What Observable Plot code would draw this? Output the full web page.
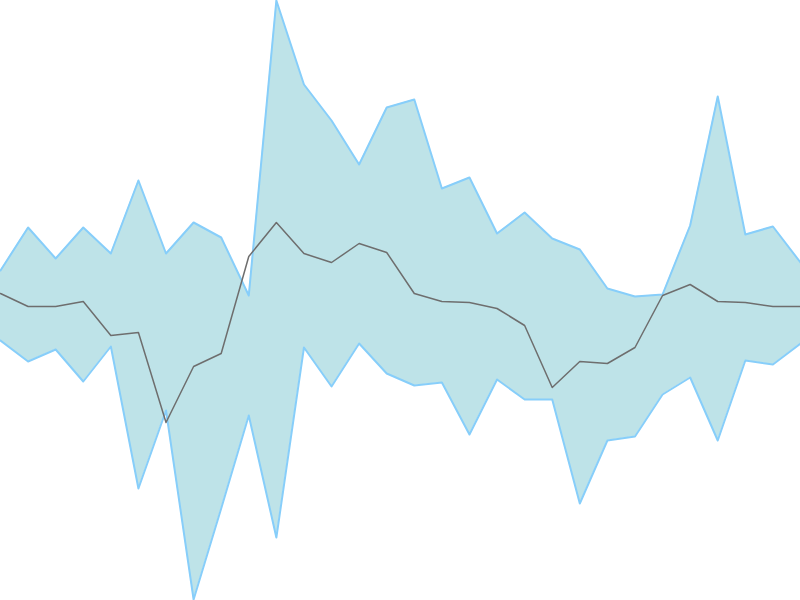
<!DOCTYPE html>
<html><head><meta charset="utf-8">
<script src="https://cdn.jsdelivr.net/npm/d3@7"></script>
<script src="https://cdn.jsdelivr.net/npm/@observablehq/plot@0.6"></script>
<style>html,body{margin:0;padding:0;background:#fff;}</style>
</head><body><div id="chart"></div>
<script>
const upper = [33.0,37.3,34.2,37.3,34.7,42.0,34.7,37.8,36.3,30.5,60.0,51.6,48.0,43.6,49.3,50.1,41.2,42.3,36.7,38.8,36.2,35.1,31.2,30.4,30.6,37.5,50.4,36.6,37.4,33.8];
const lower = [26.0,23.9,25.1,21.9,25.4,11.2,19.0,0.1,9.2,18.5,6.3,25.3,21.4,25.7,22.7,21.5,21.8,16.6,22.1,20.1,20.1,9.7,16.0,16.4,20.6,22.3,16.0,24.0,23.6,25.7];
const middle = [30.7,29.4,29.4,29.9,26.5,26.8,17.8,23.4,24.7,34.4,37.8,34.7,33.8,35.7,34.8,30.7,29.9,29.8,29.2,27.5,21.3,23.9,23.7,25.3,30.5,31.6,29.9,29.8,29.4,29.4];
const data = upper.map((u, i) => ({i, upper: u, lower: lower[i], middle: middle[i]}));
const chart = Plot.plot({
  width: 800, height: 600,
  margin: 0,
  x: {domain: [0, 29], axis: null},
  y: {domain: [0, 60], axis: null},
  marks: [
    Plot.areaY(data, {x: "i", y1: "lower", y2: "upper", fill: "#bee3e8"}),
    Plot.lineY(data, {x: "i", y: "upper", stroke: "#87cefa", strokeWidth: 2}),
    Plot.lineY(data, {x: "i", y: "lower", stroke: "#87cefa", strokeWidth: 2}),
    Plot.lineY(data, {x: "i", y: "middle", stroke: "#6e6e6e", strokeWidth: 1.5})
  ]
});
document.getElementById("chart").appendChild(chart);
</script></body></html>
